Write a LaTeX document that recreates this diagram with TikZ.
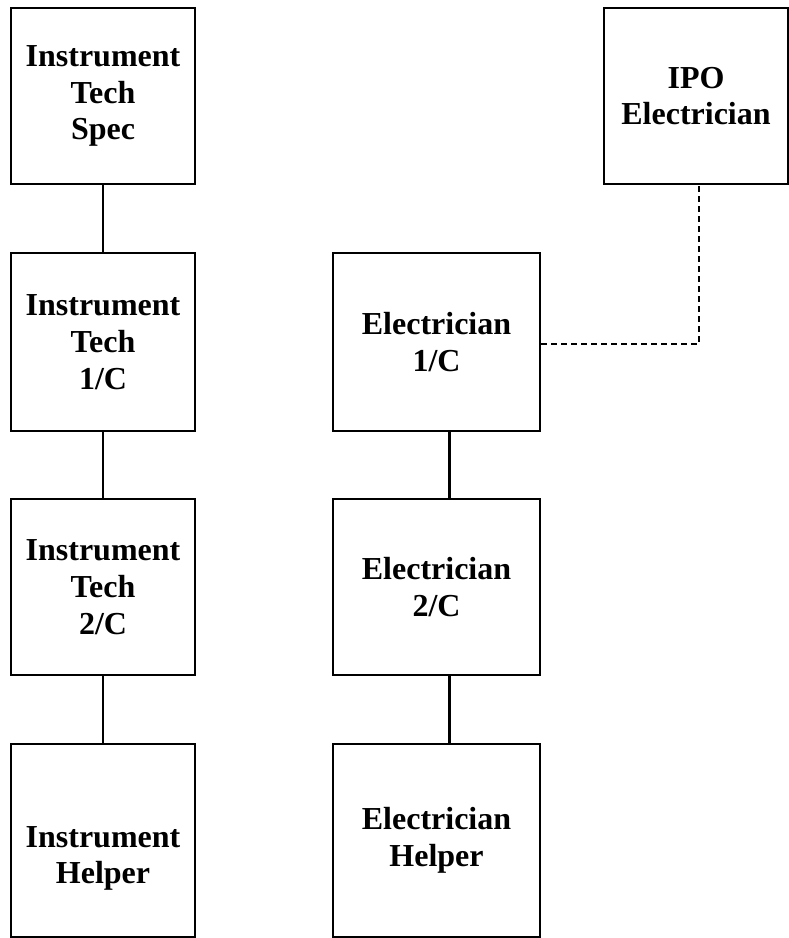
\documentclass[tikz,border=0pt]{standalone}
\usepackage{fontspec}
\setmainfont{Liberation Serif}
\usetikzlibrary{positioning}

\tikzset{
    post/.style={draw, line width=2.4pt, align=center,
        font=\bfseries\fontsize{32}{36.7}\selectfont},
    lbl/.style={align=center, font=\bfseries\fontsize{32}{36.7}\selectfont},
    link/.style={line width=2.2pt},
    dotted link/.style={line width=2.2pt, dash pattern=on 5.5pt off 4.5pt}
}

\begin{document}
\begin{tikzpicture}[x=1pt,y=-1pt]

    % Define parameters
    \def\colA{103}
    \def\colB{436.5}
    \def\colC{696}

    \useasboundingbox (0,0) rectangle (788,938);

    % Instrument column
    \node[post, minimum width=184pt, minimum height=176pt] (spec) at (\colA,96) {Instrument\\Tech\\Spec};
    \node[post, minimum width=184pt, minimum height=178pt] (itone) at (\colA,342) {Instrument\\Tech\\1/C};
    \node[post, minimum width=184pt, minimum height=176pt] (ittwo) at (\colA,587) {Instrument\\Tech\\2/C};
    \node[post, minimum width=184pt, minimum height=193pt,
        label={[lbl, yshift=-18pt]center:{Instrument\\Helper}}] (ihelp) at (\colA,840.5) {};

    % Electrician column
    \node[post, minimum width=207pt, minimum height=178pt] (elone) at (\colB,342) {Electrician\\1/C};
    \node[post, minimum width=207pt, minimum height=176pt] (eltwo) at (\colB,587) {Electrician\\2/C};
    \node[post, minimum width=207pt, minimum height=193pt] (ehelp) at (\colB,840.5) {Electrician\\Helper};

    \node[post, minimum width=184pt, minimum height=176pt] (ipo) at (\colC,96) {IPO\\Electrician};

    % Lines
    \draw[link] (spec) -- (itone);
    \draw[link] (itone) -- (ittwo);
    \draw[link] (ittwo) -- (ihelp);
    \draw[link] ([xshift=13pt]elone.south) -- ([xshift=13pt]eltwo.north);
    \draw[link] ([xshift=13pt]eltwo.south) -- ([xshift=13pt]ehelp.north);
    \draw[dotted link] ([yshift=-2pt]elone.east) -| ([xshift=3pt]ipo.south);
\end{tikzpicture}
\end{document}
